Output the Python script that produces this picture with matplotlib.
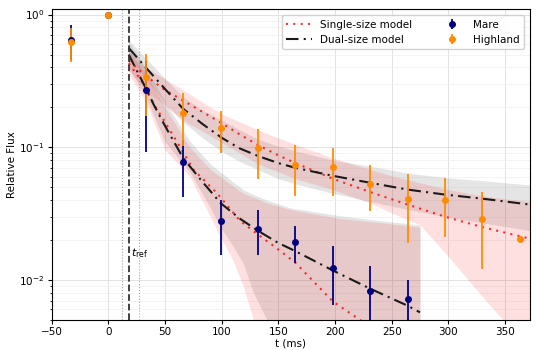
import matplotlib
matplotlib.use("Agg")
import matplotlib.pyplot as plt
import numpy as np

# measured points
t_obs = [-33, 0, 33, 66, 99, 132, 165, 198, 231, 264]
mare = [0.648, 1.0, 0.271, 0.078, 0.0279, 0.0244, 0.0194, 0.0123, 0.0083, 0.0072]
mare_err = [0.19, 0.0, 0.179, 0.036, 0.0125, 0.009, 0.006, 0.0058, 0.0045, 0.0028]

t_high = [-33, 0, 33, 66, 99, 132, 165, 198, 231, 264, 297, 330, 363]
high = [0.618, 1.0, 0.339, 0.18, 0.14, 0.098, 0.0737, 0.0711, 0.053, 0.041, 0.0399, 0.029, 0.0204]
high_err = [0.18, 0.0, 0.166, 0.077, 0.049, 0.04, 0.031, 0.028, 0.02, 0.022, 0.019, 0.017, 0.0]

t_ref = 18.3
t_ref_lo, t_ref_hi = 12.4, 27.4

# highland models
t_hm = [18, 33, 50, 66, 83, 100, 116, 132, 150, 165, 198, 231, 264, 297, 330, 372]
high_single = [0.45, 0.345, 0.27, 0.225, 0.185, 0.152, 0.125, 0.104, 0.087, 0.076, 0.058, 0.046, 0.037, 0.030, 0.025, 0.0205]
high_dual = [0.56, 0.40, 0.275, 0.195, 0.15, 0.118, 0.098, 0.086, 0.076, 0.070, 0.061, 0.054, 0.048, 0.044, 0.041, 0.037]
high_dual_lo = [0.49, 0.33, 0.215, 0.155, 0.118, 0.093, 0.078, 0.068, 0.058, 0.053, 0.045, 0.039, 0.034, 0.030, 0.027, 0.0235]
high_dual_hi = [0.64, 0.47, 0.33, 0.24, 0.19, 0.16, 0.135, 0.115, 0.102, 0.094, 0.080, 0.072, 0.064, 0.059, 0.056, 0.052]
t_hs_lo = [18, 33, 66, 99, 132, 165, 198, 231, 250, 275, 300, 330, 350, 372]
high_single_lo = [0.38, 0.27, 0.16, 0.11, 0.075, 0.058, 0.048, 0.038, 0.032, 0.026, 0.015, 0.0075, 0.0048, 0.003]
high_single_hi = [0.53, 0.40, 0.27, 0.18, 0.135, 0.105, 0.083, 0.068, 0.061, 0.054, 0.048, 0.043, 0.041, 0.039]

# mare models
t_mm = [18, 25, 33, 40, 50, 66, 83, 99, 116, 132, 150, 165, 198, 231, 264, 275]
mare_dual = [0.50, 0.38, 0.28, 0.21, 0.145, 0.083, 0.055, 0.038, 0.029, 0.0235, 0.019, 0.0165, 0.0118, 0.0086, 0.0064, 0.0057]
t_ms = [18, 30, 41, 50, 66, 75, 96, 116, 132, 146, 165, 198, 222, 240]
mare_single = [0.43, 0.31, 0.205, 0.155, 0.092, 0.068, 0.045, 0.028, 0.022, 0.018, 0.0135, 0.0069, 0.005, 0.004]

t_mb = [18, 33, 50, 72, 90, 99, 110, 119, 128, 140, 160, 204, 240, 275]
mare_dual_lo = [0.40, 0.24, 0.11, 0.065, 0.035, 0.025, 0.018, 0.0134, 0.008, 0.005, 0.003, 0.002, 0.002, 0.002]
mare_dual_hi = [0.62, 0.40, 0.22, 0.111, 0.075, 0.065, 0.055, 0.048, 0.044, 0.040, 0.035, 0.0305, 0.028, 0.026]
mare_single_lo = [0.36, 0.22, 0.096, 0.06, 0.03, 0.021, 0.014, 0.009, 0.005, 0.003, 0.002, 0.002, 0.002, 0.002]
mare_single_hi = [0.53, 0.36, 0.20, 0.10, 0.068, 0.06, 0.051, 0.045, 0.042, 0.038, 0.034, 0.029, 0.027, 0.025]

fig, ax = plt.subplots(figsize=(5.38, 3.5), dpi=100)

# bands
ax.fill_between(t_hm, high_dual_lo, high_dual_hi, color='gray', alpha=0.2, lw=0)
ax.fill_between(t_hs_lo, high_single_lo, high_single_hi, color='red', alpha=0.12, lw=0)
ax.fill_between(t_mb, mare_dual_lo, mare_dual_hi, color='gray', alpha=0.2, lw=0)
ax.fill_between(t_mb, mare_single_lo, mare_single_hi, color='red', alpha=0.12, lw=0)

# model lines
ax.plot(t_hm, high_single, color='red', ls=(0, (1, 2.5)), lw=1.5, alpha=0.8, label='Single-size model')
ax.plot(t_hm, high_dual, color='#1a1a1a', ls=(0, (6, 2.5, 1, 2.5)), lw=1.5, label='Dual-size model')
ax.plot(t_ms, mare_single, color='red', ls=(0, (1, 2.5)), lw=1.5, alpha=0.8)
ax.plot(t_mm, mare_dual, color='#1a1a1a', ls=(0, (6, 2.5, 1, 2.5)), lw=1.5)

# reference time
ax.axvline(t_ref, color='#333333', ls='--', lw=1.3)
ax.axvline(t_ref_lo, color='gray', ls=':', lw=0.8, alpha=0.7)
ax.axvline(t_ref_hi, color='gray', ls=':', lw=0.8, alpha=0.7)
ax.text(t_ref + 1.5, 0.0158, r'$t_{\rm ref}$', fontsize=8, va='center')

# data
ax.errorbar(t_obs, mare, yerr=mare_err, fmt='o', color='navy', ms=4, lw=1.3, capsize=0, label='Mare')
ax.errorbar(t_high, high, yerr=high_err, fmt='o', color='darkorange', ms=4, lw=1.3, capsize=0, label='Highland')

ax.set_yscale('log')
ax.set_xlim(-50, 372)
ax.set_ylim(0.005, 1.1)
ax.set_xlabel('t (ms)', fontsize=7.5, labelpad=1)
ax.set_ylabel('Relative Flux', fontsize=7.5, labelpad=2)
ax.tick_params(labelsize=7.5, length=3, pad=2)
ax.tick_params(which='minor', length=1.5)
ax.grid(True, which='major', color='#dddddd', lw=0.6)
ax.grid(True, which='minor', axis='y', color='#eeeeee', lw=0.5)
ax.set_axisbelow(True)

ax.legend(loc='upper right', ncol=2, fontsize=7.5, framealpha=0.9,
          handlelength=2.5, columnspacing=2.5, borderaxespad=0.6)

fig.subplots_adjust(left=0.096, right=0.985, top=0.974, bottom=0.086)
fig.savefig('out.png', dpi=100)
